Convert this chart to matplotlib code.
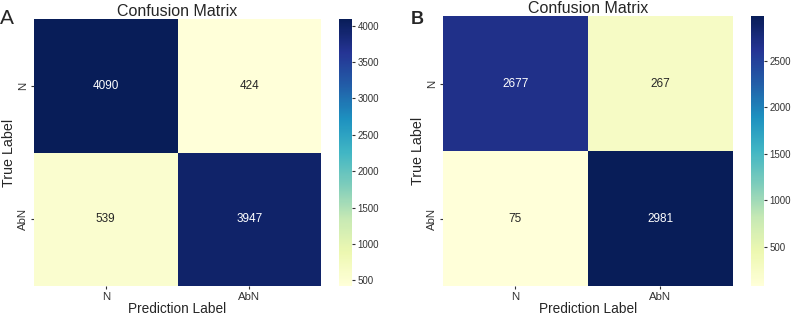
import matplotlib
matplotlib.use('Agg')
import matplotlib.pyplot as plt
import numpy as np
import seaborn as sns

labels = ['N', 'AbN']
cm_a = [[4090, 424], [539, 3947]]
cm_b = [[2677, 267], [75, 2981]]
cbar_ticks_a = [500, 1000, 1500, 2000, 2500, 3000, 3500, 4000]
cbar_ticks_b = [500, 1000, 1500, 2000, 2500]

sns.set_style('ticks')
plt.rcParams['font.family'] = ['Liberation Sans', 'DejaVu Sans']
plt.rcParams['xtick.color'] = '#333333'
plt.rcParams['ytick.color'] = '#333333'

fig = plt.figure(figsize=(7.96, 3.16), dpi=100)

# letter, data, colorbar ticks, heatmap box, colorbar box, letter x/y, letter size/weight
panels = [
    ('A', cm_a, cbar_ticks_a, [0.0427, 0.0949, 0.3606, 0.845], [0.4259, 0.0949, 0.0163, 0.845],
     (0.0, 0.972), 15, 'normal'),
    ('B', cm_b, cbar_ticks_b, [0.5565, 0.0949, 0.3643, 0.854], [0.9435, 0.0949, 0.0163, 0.854],
     (0.516, 0.965), 13, 'bold'),
]

for letter, cm, ticks, pos, cpos, lxy, lsize, lweight in panels:
    ax = fig.add_axes(pos)
    cax = fig.add_axes(cpos)
    sns.heatmap(np.array(cm), annot=True, fmt='d', cmap='YlGnBu',
                xticklabels=labels, yticklabels=labels, ax=ax, cbar_ax=cax,
                annot_kws={'fontsize': 8.5})
    ax.set_title('Confusion Matrix', fontsize=11.5, pad=1)
    ax.set_xlabel('Prediction Label', fontsize=9.8, labelpad=0.5)
    ax.set_ylabel('True Label', fontsize=10.3, labelpad=2)
    ax.tick_params(labelsize=8.2, length=2, pad=2)
    cax.set_yticks(ticks)
    cax.tick_params(labelsize=7, length=2.5, pad=1.5)
    for s in cax.spines.values():
        s.set_visible(False)
    fig.text(lxy[0], lxy[1], letter, fontsize=lsize, fontweight=lweight, va='top')

fig.savefig('out.png', dpi=100)
